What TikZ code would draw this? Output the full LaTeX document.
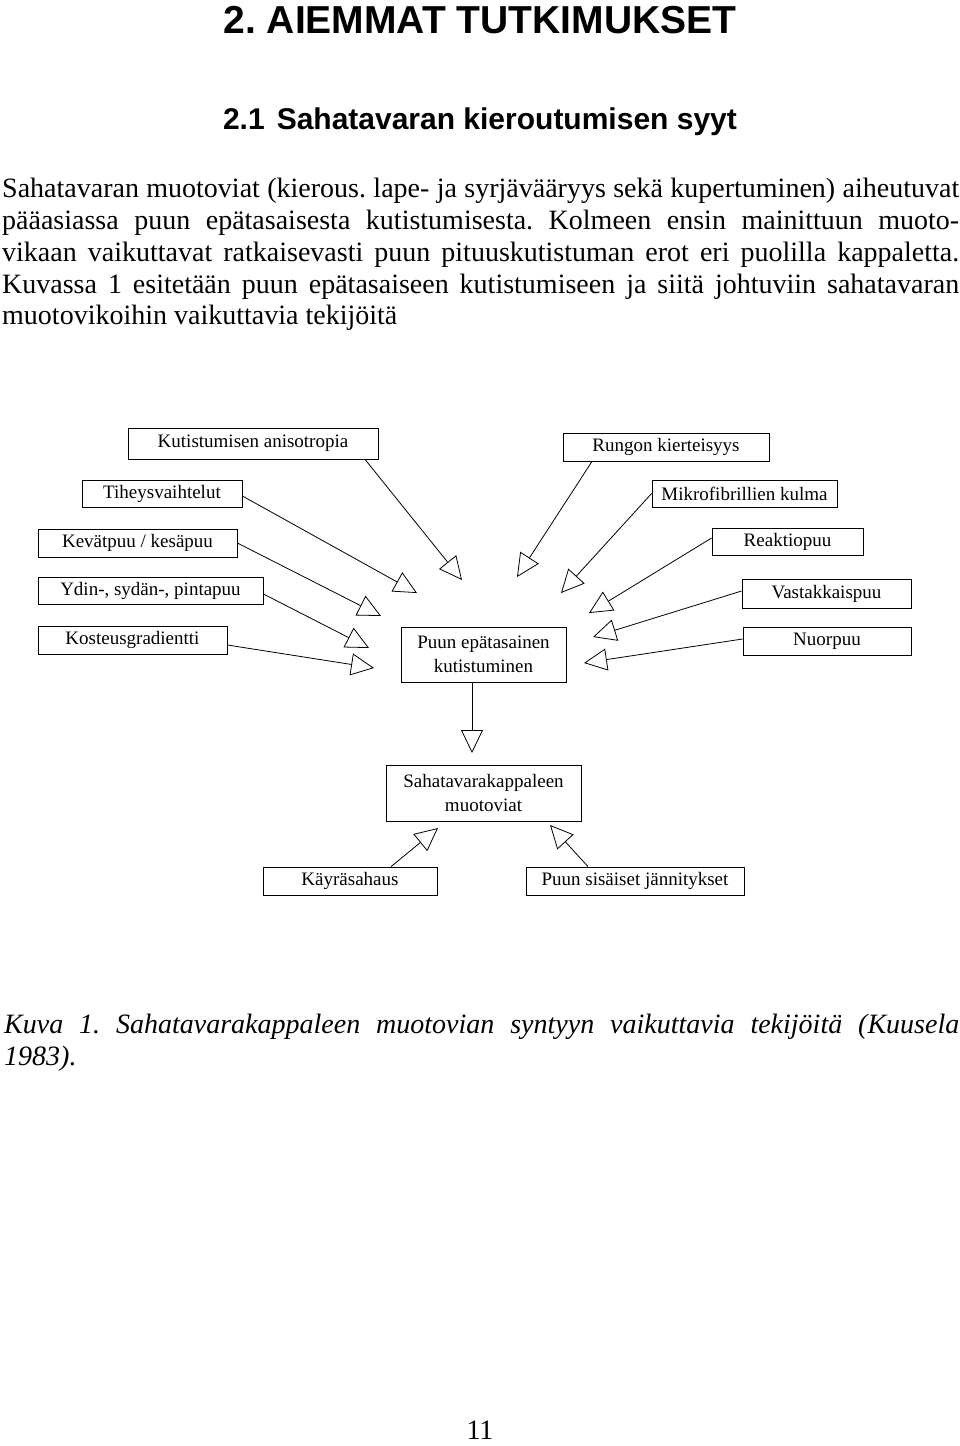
\documentclass[tikz,border=0pt]{standalone}
\usepackage{fontspec}
\setmainfont{Liberation Serif}
\newfontfamily\headfont{Liberation Sans}
\usetikzlibrary{arrows.meta}
\frenchspacing
\begin{document}
\frenchspacing
\begin{tikzpicture}[x=1pt,y=-1pt,
  box/.style={draw, line width=0.8pt, inner sep=0pt, font=\fontsize{19}{24.5}\selectfont, align=center},
  conn/.style={draw, line width=0.8pt, -{Triangle[open,length=23pt,width=22pt,line width=0.8pt]}},
  bodyline/.style={anchor=base west, inner sep=0pt, font=\fontsize{28}{32}\selectfont},
  headline/.style={anchor=base, inner sep=0pt}
]
\useasboundingbox[fill=white] (0,0) rectangle (960,1446);

% headings
\node[headline, font=\headfont\bfseries\fontsize{39}{44}\selectfont] (h1) at (480,33) {2. AIEMMAT TUTKIMUKSET};
\node[headline, font=\headfont\bfseries\fontsize{30}{36}\selectfont] (h2) at (480,129) {2.1\hspace{12pt}Sahatavaran kieroutumisen syyt};

% body text
\node[bodyline] (p1) at (2,197) {\makebox[957pt][s]{Sahatavaran muotoviat (kierous. lape- ja syrjävääryys sekä kupertuminen) aiheutuvat}};
\node[bodyline] (p2) at (2,229) {\makebox[957pt][s]{pääasiassa puun epätasaisesta kutistumisesta. Kolmeen ensin mainittuun muoto-}};
\node[bodyline] (p3) at (2,261) {\makebox[957pt][s]{vikaan vaikuttavat ratkaisevasti puun pituuskutistuman erot eri puolilla kappaletta.}};
\node[bodyline] (p4) at (2,293) {\makebox[957pt][s]{Kuvassa 1 esitetään puun epätasaiseen kutistumiseen ja siitä johtuviin sahatavaran}};
\node[bodyline] (p5) at (2,324) {muotovikoihin vaikuttavia tekijöitä};

% boxes
\node[box, minimum width=250pt, minimum height=31pt] (kut) at (253,443.5) {Kutistumisen anisotropia};
\node[box, minimum width=160pt, minimum height=27pt] (tih) at (162,493.5) {Tiheysvaihtelut};
\node[box, minimum width=199pt, minimum height=28pt] (kev) at (137.5,543) {Kevätpuu / kesäpuu};
\node[box, minimum width=225pt, minimum height=27pt] (ydin) at (150.5,590.5) {Ydin-, sydän-, pintapuu};
\node[box, minimum width=189pt, minimum height=28pt] (kos) at (132.5,640) {Kosteusgradientti};
\node[box, minimum width=206pt, minimum height=28pt] (run) at (666,447) {Rungon kierteisyys};
\node[box, minimum width=185pt, minimum height=27pt] (mik) at (744.5,493.5) {Mikrofibrillien kulma};
\node[box, minimum width=151pt, minimum height=27pt] (rea) at (787.5,541.5) {Reaktiopuu};
\node[box, minimum width=169pt, minimum height=29pt] (vas) at (826.5,593.5) {Vastakkaispuu};
\node[box, minimum width=168pt, minimum height=28pt] (nuo) at (827,641) {Nuorpuu};
\node[box, minimum width=165pt, minimum height=55pt] (pet) at (483.5,654.5) {Puun epätasainen\\kutistuminen};
\node[box, minimum width=195pt, minimum height=56pt] (sah) at (483.5,793) {Sahatavarakappaleen\\muotoviat};
\node[box, minimum width=174pt, minimum height=28pt] (kay) at (350,881) {Käyräsahaus};
\node[box, minimum width=218pt, minimum height=28pt] (pss) at (635,881) {Puun sisäiset jännitykset};

% arrow tip points
\coordinate (tkut) at (462,580);
\coordinate (ttih) at (417,593);
\coordinate (tkev) at (381,616);
\coordinate (tydin) at (369,648);
\coordinate (tkos) at (374,668);
\coordinate (trun) at (517,577);
\coordinate (tmik) at (561,593);
\coordinate (trea) at (589,613);
\coordinate (tvas) at (593,637);
\coordinate (tnuo) at (584,663);
\coordinate (tdown) at (472,753);
\coordinate (tkay) at (438,828);
\coordinate (tpss) at (550,825);

% connectors
\draw[conn] ([xshift=112pt]kut.south) -- (tkut);
\draw[conn] ([yshift=-2.5pt]tih.east) -- (ttih);
\draw[conn] (kev.east) -- (tkev);
\draw[conn] ([yshift=-3.5pt]ydin.east) -- (tydin);
\draw[conn] ([yshift=-5pt]kos.east) -- (tkos);
\draw[conn] ([xshift=-74pt]run.south) -- (trun);
\draw[conn] (mik.west) -- (tmik);
\draw[conn] ([yshift=3.5pt]rea.west) -- (trea);
\draw[conn] ([yshift=2.5pt]vas.west) -- (tvas);
\draw[conn] ([yshift=2pt]nuo.west) -- (tnuo);
\draw[conn] ([xshift=-11.5pt]pet.south) -- (tdown);
\draw[conn] ([xshift=41pt]kay.north) -- (tkay);
\draw[conn] ([xshift=-47pt]pss.north) -- (tpss);

% caption
\node[bodyline, font=\itshape\fontsize{28}{32}\selectfont] (c1) at (4,1033) {\makebox[955pt][s]{Kuva 1. Sahatavarakappaleen muotovian syntyyn vaikuttavia tekijöitä (Kuusela}};
\node[bodyline, font=\itshape\fontsize{28}{32}\selectfont] (c2) at (4,1065) {1983).};

% page number
\node[headline, font=\fontsize{28}{32}\selectfont] (pg) at (480,1439) {11};
\end{tikzpicture}
\end{document}
